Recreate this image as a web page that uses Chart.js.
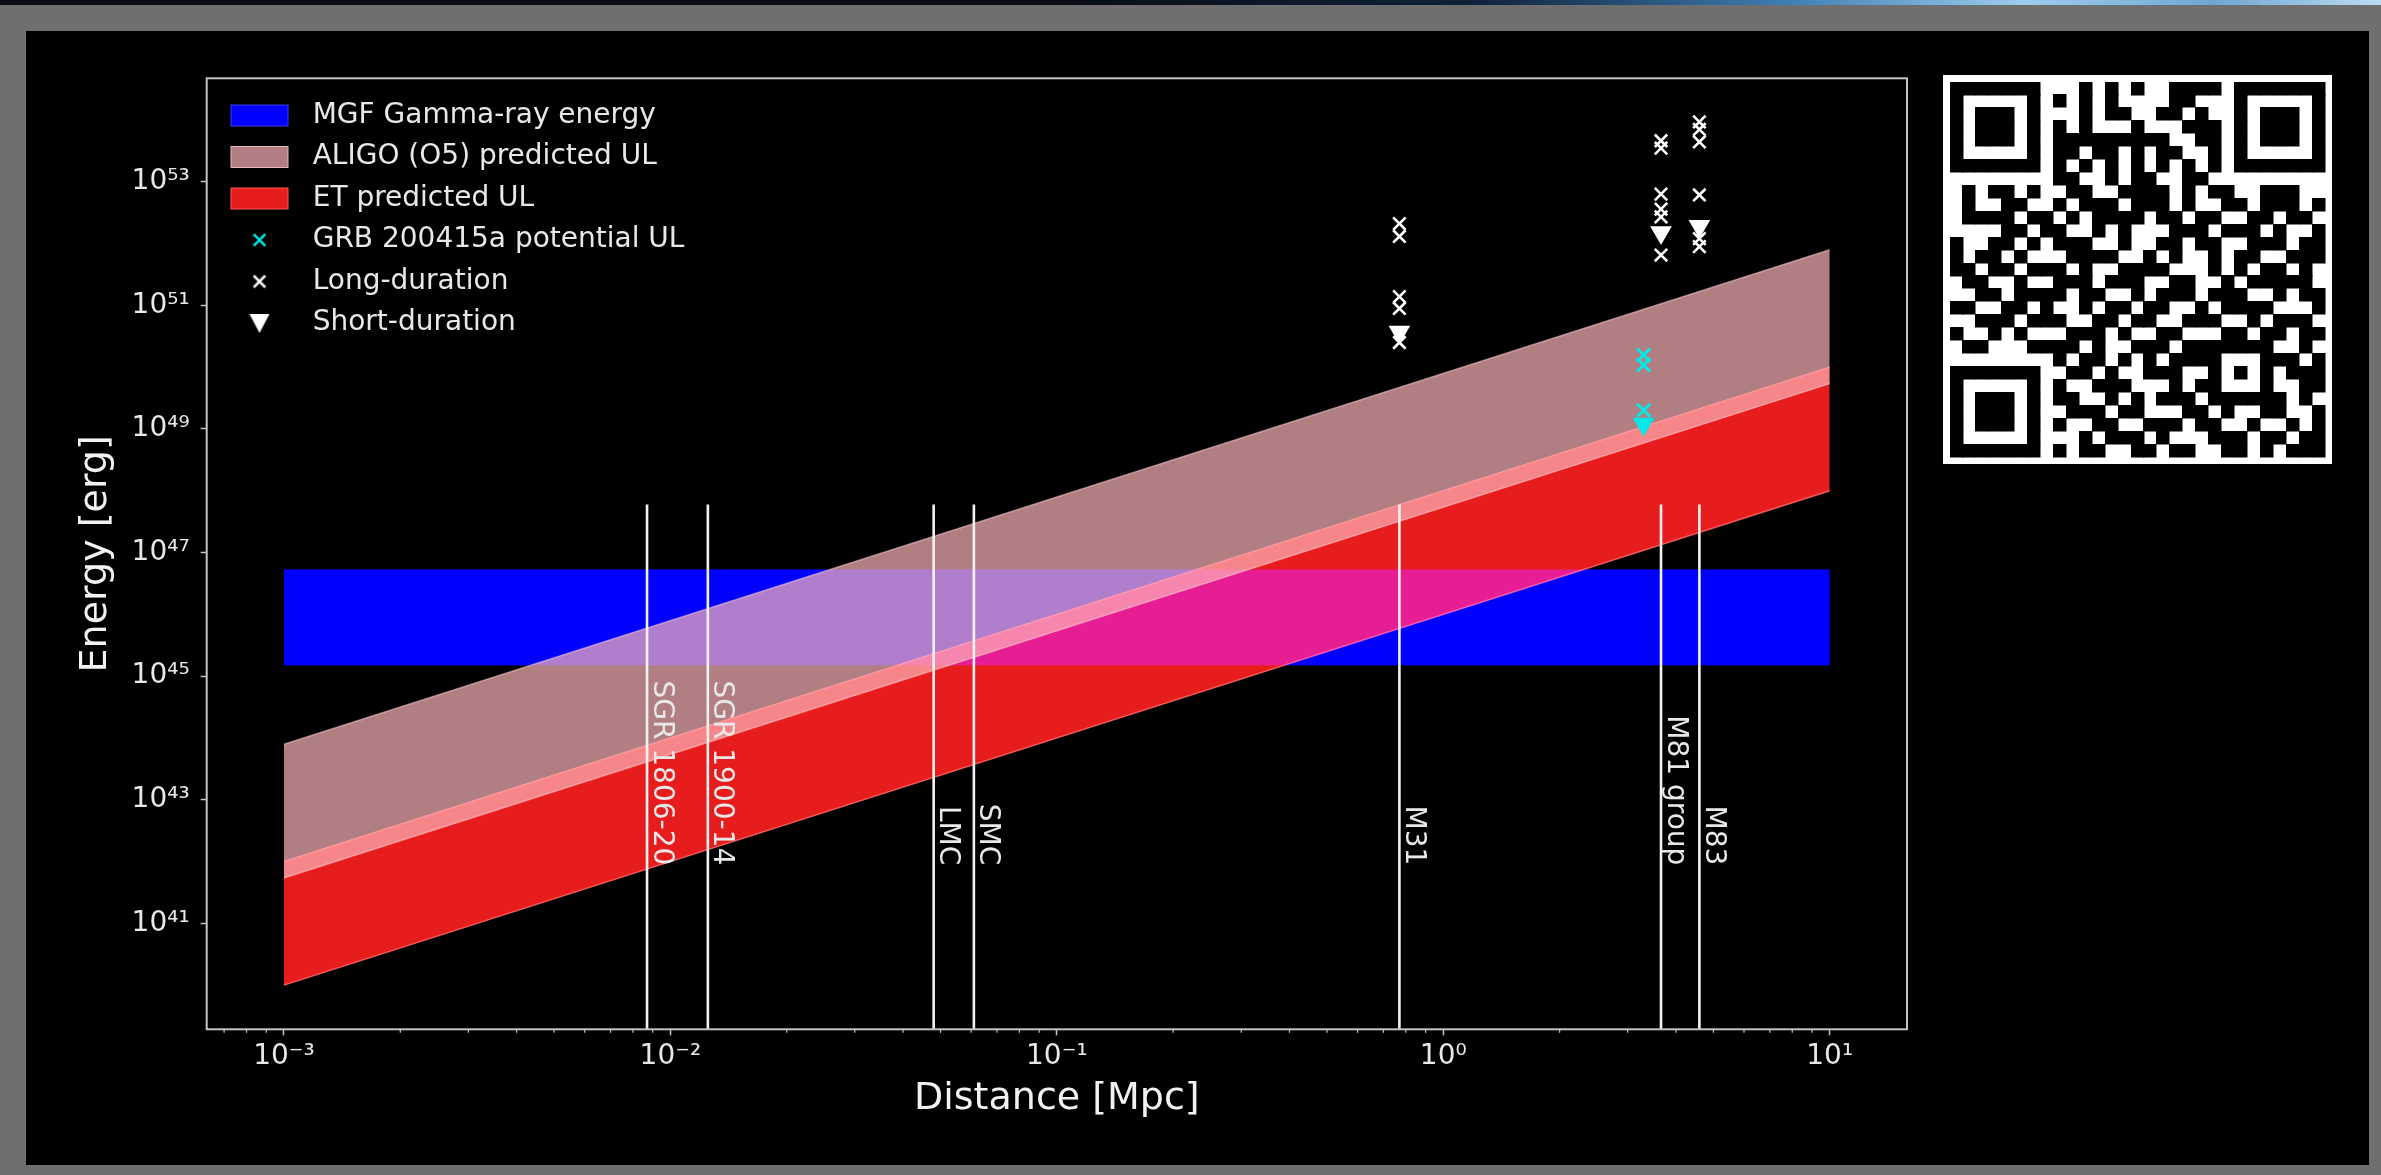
<!DOCTYPE html>
<html>
<head>
<meta charset="utf-8">
<script src="https://cdn.jsdelivr.net/npm/chart.js@4.4.1/dist/chart.umd.min.js"></script>
<style>
  html, body { margin: 0; padding: 0; width: 2381px; height: 1175px; overflow: hidden; background: #6f6f6f; }
  #topstrip { position: absolute; left: 0; top: 0; width: 2381px; height: 5px;
    background: linear-gradient(90deg, #0a0d16 0%, #0a0d16 45%, #10223a 62%, #3d7eb4 75%, #9ccdee 85%, #6fa6d2 93%, #b9dcf3 100%); }
  #panel { position: absolute; left: 26px; top: 31px; width: 2343px; height: 1134px; background: #000; }
  #chartwrap { position: absolute; left: 0; top: 0; width: 2381px; height: 1175px; }
  #qr { position: absolute; left: 1943px; top: 75px; }
</style>
</head>
<body>
<div id="topstrip"></div>
<div id="panel"></div>
<canvas id="qr" width="389" height="389"></canvas>
<div id="chartwrap"><canvas id="c" width="2381" height="1175"></canvas></div>
<script>
// ---------------- data ----------------
const bandDistance = [1e-3, 1e1];                 // Mpc
const mgfLower = [1.5e45, 1.5e45];                 // erg
const mgfUpper = [5.3e46, 5.3e46];
const etLower = [1e40, 1e48];
const etUpper = [1e42, 1e50];
const aligoLower = [5.4e41, 5.4e49];
const aligoUpper = [7.9e43, 7.9e51];

const sourceNames = ['SGR 1806-20', 'SGR 1900-14', 'LMC', 'SMC', 'M31', 'M81 group', 'M83'];
const sourceDistance = [0.0087, 0.0125, 0.048, 0.061, 0.77, 3.66, 4.6];
const sourceLineEnergy = [1e39, 6e47];
const sourceLabelEnergy = 8.7e41;

const grbDistance = [3.3, 3.3, 3.3];
const grbEnergy = [1.57e50, 1.08e50, 2.0e49];
const grbShortDistance = [3.3];
const grbShortEnergy = [1.2e49];

const longDistance = [0.77, 0.77, 0.77, 0.77, 0.77,
                      3.66, 3.66, 3.66, 3.66, 3.66, 3.66,
                      4.6, 4.6, 4.6, 4.6, 4.6, 4.6];
const longEnergy = [2.1e52, 1.3e52, 1.38e51, 8.9e50, 2.5e50,
                    4.6e53, 3.5e53, 6.3e52, 3.6e52, 2.7e52, 6.5e51,
                    9.3e53, 7.0e53, 4.4e53, 6.1e52, 1.2e52, 8.9e51];
const shortDistance = [0.77, 3.66, 4.6];
const shortEnergy = [3.7e50, 1.5e52, 1.9e52];

const xTickValues = [1e-3, 1e-2, 1e-1, 1e0, 1e1];
const xTickLabels = ['10\u207B\u00B3', '10\u207B\u00B2', '10\u207B\u00B9', '10\u2070', '10\u00B9'];
const xMinorMultipliers = [2, 3, 4, 5, 6, 7, 8, 9];
const yTickValues = [1e41, 1e43, 1e45, 1e47, 1e49, 1e51, 1e53];
const yTickLabels = ['10\u2074\u00B9', '10\u2074\u00B3', '10\u2074\u2075', '10\u2074\u2077', '10\u2074\u2079', '10\u2075\u00B9', '10\u2075\u00B3'];
const xRange = [6.31e-4, 15.85];
const yRange = [1.93e39, 4.71e54];

const legendLabels = ['MGF Gamma-ray energy', 'ALIGO (O5) predicted UL', 'ET predicted UL',
                      'GRB 200415a potential UL', 'Long-duration', 'Short-duration'];

// ---------------- styles ----------------
const C_BLUE = '#0000ff';
const C_BLUE_GLOW = 'rgba(0,0,255,0.5)';
const C_ALIGO = 'rgba(252,180,184,0.70)';
const C_ET = 'rgba(240,30,30,0.96)';
const C_TEXT = '#e8e8e8';
const C_FRAME = '#c4c4c4';

Chart.defaults.font.family = '"DejaVu Sans", sans-serif';
Chart.defaults.color = C_TEXT;

const zip = (xs, ys) => xs.map((x, i) => ({ x: x, y: ys[i] }));

function findLabel(v, values, labels) {
  for (let i = 0; i < values.length; i++) {
    if (Math.abs(Math.log10(v) - Math.log10(values[i])) < 1e-6) return labels[i];
  }
  return '';
}

// legend icons
function patchIcon(color, edge) {
  const c = document.createElement('canvas'); c.width = 60; c.height = 24;
  const g = c.getContext('2d');
  g.fillStyle = color; g.fillRect(1, 1, 58, 22);
  g.strokeStyle = edge; g.lineWidth = 1; g.strokeRect(1.5, 1.5, 57, 21);
  return c;
}
function crossIcon(color) {
  const c = document.createElement('canvas'); c.width = 16; c.height = 16;
  const g = c.getContext('2d');
  g.strokeStyle = color; g.lineWidth = 2.6; g.lineCap = 'butt';
  g.beginPath(); g.moveTo(2.2, 2.2); g.lineTo(13.8, 13.8); g.moveTo(13.8, 2.2); g.lineTo(2.2, 13.8); g.stroke();
  return c;
}
function triIcon(color) {
  const c = document.createElement('canvas'); c.width = 22; c.height = 22;
  const g = c.getContext('2d');
  g.fillStyle = color;
  g.beginPath(); g.moveTo(1, 2); g.lineTo(21, 2); g.lineTo(11, 21); g.closePath(); g.fill();
  return c;
}
const legendIcons = [
  patchIcon(C_BLUE, 'rgba(60,60,255,1)'),
  patchIcon(C_ALIGO, 'rgba(255,210,215,0.7)'),
  patchIcon(C_ET, 'rgba(255,90,90,0.95)'),
  crossIcon('#00e5e5'),
  crossIcon('#ffffff'),
  triIcon('#ffffff')
];

// ---------------- datasets ----------------
const datasets = [];
function band(lower, upper, fillColor, edgeColor, order, blend) {
  datasets.push({ type: 'line', data: zip(bandDistance, lower), borderColor: edgeColor, borderWidth: edgeColor ? 1.5 : 0,
    pointRadius: 0, fill: false, order: order, tension: 0 });
  datasets.push({ type: 'line', data: zip(bandDistance, upper), borderColor: edgeColor, borderWidth: edgeColor ? 1.5 : 0,
    pointRadius: 0, fill: '-1', backgroundColor: fillColor, order: order, tension: 0, blend: blend });
}
band(mgfLower, mgfUpper, C_BLUE, null, 10);
band(etLower, etUpper, C_ET, 'rgba(255,95,95,0.9)', 9);
band(mgfLower, mgfUpper, C_BLUE_GLOW, null, 8.5, 'screen');   // blue shows through the red band
band(aligoLower, aligoUpper, C_ALIGO, 'rgba(255,205,210,0.55)', 8);

sourceDistance.forEach((d) => {
  datasets.push({ type: 'line', data: zip([d, d], sourceLineEnergy), borderColor: '#f2f2f2', borderWidth: 2.6,
    pointRadius: 0, fill: false, order: 5 });
});

datasets.push({ type: 'scatter', data: zip(longDistance, longEnergy), pointStyle: 'crossRot', pointRadius: 8.8,
  pointBorderWidth: 2.6, borderColor: '#ffffff', backgroundColor: '#ffffff', order: 2 });
datasets.push({ type: 'scatter', data: zip(shortDistance, shortEnergy), pointStyle: 'triangle', rotation: 180,
  pointRadius: 12.5, pointBorderWidth: 0, borderColor: '#ffffff', backgroundColor: '#ffffff', order: 2 });
datasets.push({ type: 'scatter', data: zip(grbDistance, grbEnergy), pointStyle: 'crossRot', pointRadius: 9.2,
  pointBorderWidth: 3, borderColor: '#00eaea', backgroundColor: '#00eaea', order: 1 });
datasets.push({ type: 'scatter', data: zip(grbShortDistance, grbShortEnergy), pointStyle: 'triangle', rotation: 180,
  pointRadius: 12.5, pointBorderWidth: 0, borderColor: '#00eaea', backgroundColor: '#00eaea', order: 1 });

// ---------------- plugins ----------------
const extrasPlugin = {
  id: 'extras',
  afterDatasetDraw(chart, args) {
    // blend mode for the fill of the next dataset that is drawn
    const ctx = chart.ctx;
    const own = chart.data.datasets[args.index];
    if (own && own.blend) ctx.globalCompositeOperation = 'source-over';
    const metas = chart.getSortedVisibleDatasetMetas();
    const pos = metas.indexOf(args.meta);
    const next = pos > 0 ? metas[pos - 1] : null;
    if (next) {
      const nd = chart.data.datasets[next.index];
      if (nd && nd.blend) ctx.globalCompositeOperation = nd.blend;
    }
  },
  afterDatasetsDraw(chart) {
    const ctx = chart.ctx, xs = chart.scales.x, ys = chart.scales.y;
    ctx.globalCompositeOperation = 'source-over';
    // source labels
    ctx.save();
    ctx.font = '28px "DejaVu Sans"';
    ctx.fillStyle = C_TEXT;
    ctx.textAlign = 'right';
    ctx.textBaseline = 'alphabetic';
    sourceNames.forEach((n, i) => {
      const px = xs.getPixelForValue(sourceDistance[i]);
      const py = ys.getPixelForValue(sourceLabelEnergy);
      ctx.save();
      ctx.translate(px + 6.5, py);
      ctx.rotate(Math.PI / 2);
      ctx.fillText(n, 0, 0);
      ctx.restore();
    });
    ctx.restore();
  },
  afterDraw(chart) {
    const ctx = chart.ctx, a = chart.chartArea, xs = chart.scales.x;
    ctx.save();
    // minor x ticks
    ctx.strokeStyle = C_FRAME; ctx.lineWidth = 1.2;
    xs.ticks.forEach(t => {
      if (t.major) return;
      const px = xs.getPixelForValue(t.value);
      ctx.beginPath(); ctx.moveTo(px, a.bottom); ctx.lineTo(px, a.bottom + 3.5); ctx.stroke();
    });
    // frame
    ctx.strokeStyle = C_FRAME; ctx.lineWidth = 2;
    ctx.strokeRect(a.left, a.top, a.right - a.left, a.bottom - a.top);
    ctx.restore();
  }
};

const chart = new Chart(document.getElementById('c'), {
  type: 'line',
  data: { datasets: datasets },
  options: {
    responsive: false,
    animation: false,
    devicePixelRatio: 1,
    layout: { padding: { left: 0, top: 78.3, right: 474, bottom: 0 } },
    scales: {
      x: {
        type: 'logarithmic', min: xRange[0], max: xRange[1], bounds: 'data',
        afterBuildTicks: (s) => {
          const t = [];
          for (let e = -4; e <= 1; e++) {
            const base = Math.pow(10, e);
            if (base >= xRange[0] && base <= xRange[1]) t.push({ value: base, major: true });
            xMinorMultipliers.forEach(m => {
              const v = m * base;
              if (v >= xRange[0] && v <= xRange[1]) t.push({ value: v, major: false });
            });
          }
          t.sort((a, b) => a.value - b.value);
          s.ticks = t;
        },
        afterFit: (s) => { s.height = 145.7; },
        ticks: {
          callback: (v) => findLabel(v, xTickValues, xTickLabels),
          font: { size: 28 }, color: C_TEXT, padding: 5, autoSkip: false, maxRotation: 0, minRotation: 0
        },
        grid: {
          drawOnChartArea: false, drawTicks: true, tickLength: 6,
          tickColor: (c) => (c.tick && c.tick.major) ? C_FRAME : 'rgba(0,0,0,0)', tickWidth: 1.5
        },
        border: { display: false },
        title: { display: true, text: 'Distance [Mpc]', color: '#f2f2f2', font: { size: 38 }, padding: { top: 0, bottom: 53 } }
      },
      y: {
        type: 'logarithmic', min: yRange[0], max: yRange[1], bounds: 'data',
        afterBuildTicks: (s) => { s.ticks = yTickValues.map(v => ({ value: v, major: true })); },
        afterFit: (s) => { s.width = 206.7; },
        ticks: {
          callback: (v) => findLabel(v, yTickValues, yTickLabels),
          font: { size: 28 }, color: C_TEXT, padding: 11, autoSkip: false
        },
        grid: { drawOnChartArea: false, drawTicks: true, tickLength: 6, tickColor: C_FRAME, tickWidth: 1.5 },
        border: { display: false },
        title: { display: true, text: 'Energy [erg]', color: '#f2f2f2', font: { size: 38 }, padding: { top: 73, bottom: 0 } }
      }
    },
    plugins: {
      tooltip: { enabled: false },
      legend: {
        display: true,
        position: 'chartArea',
        align: 'start',
        onClick: () => {},
        title: { display: true, text: ' ', font: { size: 1 }, padding: { top: 86.8, bottom: 0 } },
        labels: {
          usePointStyle: true,
          pointStyleWidth: 78.5,
          padding: 13.5,
          color: C_TEXT,
          font: { size: 28 },
          generateLabels: () => legendLabels.map((t, i) => ({
            text: t, pointStyle: legendIcons[i], fillStyle: 'rgba(0,0,0,0)', strokeStyle: 'rgba(0,0,0,0)',
            lineWidth: 0, hidden: false, fontColor: C_TEXT, datasetIndex: i
          }))
        }
      }
    }
  },
  plugins: [extrasPlugin]
});

// ---------------- QR code picture (decoration beside the chart) ----------------
(function drawQR() {
  const rows = [
    "00000000001010100111100000000",
    "00000000101010000110000000000",
    "00000000001011001101000000000",
    "00000000101000100011100000000",
    "00000000111111111001100000000",
    "00000000110110101100100000000",
    "00000000101010101010100000000",
    "00000000110010110011000000000",
    "01011010011001111010110011100",
    "01001100101110111010011011101",
    "01111011010111101101100110110",
    "00001101100101000111011101001",
    "10011000111001001101100111011",
    "10110110011110010100101100111",
    "11011011101001111000101011010",
    "01100100111011100110010111110",
    "00110111101100101110111001011",
    "11001101001011011001011110001",
    "00111011100110110011100101110",
    "10010100011101001100011011011",
    "01100011110100111011100010010",
    "00000000101101010111010011101",
    "00000000011010011100110100111",
    "00000000100111000101010110011",
    "00000000110010101110111101010",
    "00000000011101100011010011001",
    "00000000100110011101100100101",
    "00000000001011101000111011011",
    "00000000101100110110011010111"
  ];
  const N = 29;
  const m = [];
  for (let r = 0; r < N; r++) {
    m.push([]);
    for (let c = 0; c < N; c++) m[r].push((rows[r] || '')[c] === '1' ? 1 : 0);
  }
  function finder(r0, c0) {
    for (let r = -1; r <= 7; r++) for (let c = -1; c <= 7; c++) {
      const rr = r0 + r, cc = c0 + c;
      if (rr < 0 || cc < 0 || rr >= N || cc >= N) continue;
      let v = 0;
      if (r >= 0 && r <= 6 && c >= 0 && c <= 6) {
        v = (r === 0 || r === 6 || c === 0 || c === 6 || (r >= 2 && r <= 4 && c >= 2 && c <= 4)) ? 1 : 0;
      }
      m[rr][cc] = v;
    }
  }
  finder(0, 0); finder(0, 22); finder(22, 0);
  for (let i = 8; i <= 20; i++) { m[6][i] = (i % 2 === 0) ? 1 : 0; m[i][6] = (i % 2 === 0) ? 1 : 0; }
  for (let r = -2; r <= 2; r++) for (let c = -2; c <= 2; c++) {
    m[22 + r][22 + c] = (Math.max(Math.abs(r), Math.abs(c)) !== 1) ? 1 : 0;
  }
  m[21][8] = 1;
  const cv = document.getElementById('qr');
  const g = cv.getContext('2d');
  g.fillStyle = '#ffffff'; g.fillRect(0, 0, 389, 389);
  const s = 375 / N, off = 7;
  g.fillStyle = '#000000';
  for (let r = 0; r < N; r++) for (let c = 0; c < N; c++) {
    if (m[r][c]) g.fillRect(Math.floor(off + c * s), Math.floor(off + r * s), Math.ceil(s) + 0.5, Math.ceil(s) + 0.5);
  }
})();
</script>
</body>
</html>
